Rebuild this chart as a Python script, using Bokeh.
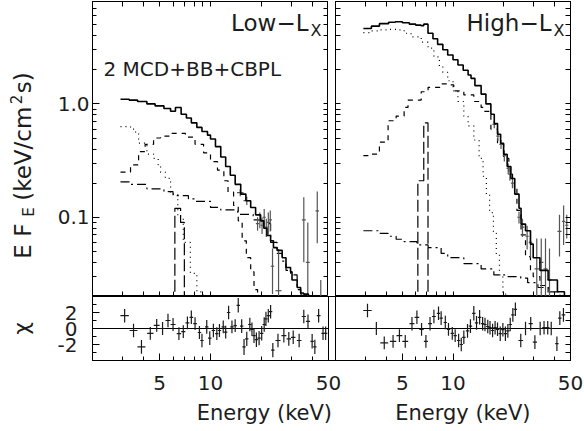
import math
from bokeh.plotting import figure
from bokeh.layouts import column, row
from bokeh.models import FixedTicker, Label, LogAxis, LinearAxis, Range1d
from bokeh.embed import file_html
from bokeh.resources import INLINE

FONT = "DejaVu Sans"
INK = "#1c1c1c"

# ---------------- Low-Lx : model components (bin edges in keV, step values in keV/cm^2/s) ----
low_total_E = [2.93, 3.3, 3.7, 4.2, 4.7, 5.3, 5.8, 6.2, 6.7, 7.2, 7.7, 8.3, 8.9, 9.6, 10.0, 10.7, 11.5, 12.3,
               13.1, 14.0, 15.1, 16.2, 17.3, 18.5, 19.8, 20.7, 21.6, 22.7, 23.6, 24.8, 26.6, 28.0, 29.8, 30.4,
               32.6, 34.2, 35.6, 38.0, 40.0, 50.0]
low_total_F = [1.10, 1.08, 1.05, 1.00, 0.96, 0.91, 0.86, 0.93, 0.81, 0.75, 0.68, 0.62, 0.57, 0.53, 0.49, 0.42,
               0.34, 0.28, 0.235, 0.195, 0.16, 0.14, 0.122, 0.105, 0.093, 0.08, 0.069, 0.062, 0.054, 0.051,
               0.044, 0.036, 0.033, 0.028, 0.024, 0.0215, 0.021, 0.0195, 0.012]
low_mcd_E = [2.93, 3.36, 3.6, 3.75, 4.2, 4.6, 4.9, 5.06, 5.4, 5.8, 6.4, 6.9, 7.6, 8.3, 9.0, 9.5]
low_mcd_F = [0.63, 0.60, 0.55, 0.45, 0.36, 0.33, 0.29, 0.25, 0.22, 0.16, 0.10, 0.06, 0.032, 0.022, 0.012]
low_bb_E = [2.93, 3.36, 3.75, 4.1, 4.6, 5.06, 5.8, 7.1, 8.1, 9.1, 10.0, 11.0, 12.0, 12.7, 13.7, 14.6, 15.4,
            16.3, 17.3, 18.1, 19.0, 19.8]
low_bb_F = [0.25, 0.29, 0.38, 0.44, 0.50, 0.52, 0.55, 0.51, 0.44, 0.37, 0.31, 0.26, 0.21, 0.167, 0.127, 0.093,
            0.062, 0.044, 0.033, 0.023, 0.015]
low_pl_E = [2.93, 3.36, 4.2, 5.3, 6.0, 7.4, 8.1, 10.0, 11.5, 14.5, 17.9, 20.0, 22.7, 24.8, 26.6, 28.0, 29.8,
            32.6, 34.2, 36.0, 40.0, 50.0]
low_pl_F = [0.205, 0.195, 0.178, 0.168, 0.155, 0.145, 0.138, 0.122, 0.116, 0.106, 0.095, 0.088, 0.060, 0.048,
            0.041, 0.034, 0.031, 0.023, 0.021, 0.019, 0.011]
low_line_E = [2.93, 6.15, 6.65, 7.0, 50.0]
low_line_F = [1e-4, 0.12, 0.09, 1e-4]

# Low-Lx : data visible in the spectrum panel
low_pts_E = [15.0, 16.4, 19.0, 19.6, 20.2, 20.8, 21.4, 22.0, 22.6, 23.3, 25.3, 35.7, 37.7, 42.9, 45.0]
low_pts_F = [0.165, 0.14, 0.088, 0.095, 0.085, 0.10, 0.082, 0.090, 0.095, 0.037, 0.0225, 0.095, 0.040, 0.114, 0.016]
low_pts_err = [0.012, 0.012, 0.012, 0.015, 0.014, 0.018, 0.015, 0.02, 0.02, 0.016, 0.03, 0.055, 0.05, 0.055, 0.012]

# Low-Lx : residuals (chi)
low_res_E = [3.1, 3.5, 3.9, 4.4, 4.8, 5.2, 5.6, 6.0, 6.5, 6.9, 7.3, 7.7, 8.1, 8.6, 8.9, 9.5, 9.9, 10.4, 10.9,
             11.3, 11.9, 12.3, 12.8, 13.4, 14.0, 14.6, 15.3, 15.8, 16.4, 17.1, 17.6, 18.1, 18.7, 19.4, 20.1,
             20.8, 21.3, 22.0, 22.7, 23.4, 25.1, 27.2, 29.1, 30.9, 33.5, 35.7, 37.8, 40.0, 41.5, 43.7, 46.4, 48.1]
low_res_chi = [1.6, -0.25, -2.3, -0.6, 0.4, 0.0, 1.0, 0.5, -0.65, -0.4, 0.7, 1.4, 0.6, -0.5, -1.5, 0.2, -1.2,
               -0.25, -0.65, -0.25, 0.2, -0.45, 2.0, 0.2, 0.35, 2.9, 0.3, -2.3, -1.3, 0.5, -0.1, -0.9, -1.4,
               -1.2, -0.6, 0.5, 1.2, 1.6, 2.1, -2.7, -1.5, -0.9, -1.3, -1.1, -1.5, 1.5, 0.9, -1.6, -2.3, 1.6,
               -0.6, -0.6]
low_res_err = [0.85, 0.85, 0.85, 0.8, 0.8, 0.8, 0.85, 0.8, 0.8, 0.8, 0.8, 0.85, 0.8, 0.8, 0.85, 0.85, 0.85,
               0.85, 0.8, 0.8, 0.8, 0.8, 0.85, 0.8, 0.8, 0.9, 0.85, 1.0, 0.9, 0.85, 0.85, 0.9, 0.9, 0.9, 0.9,
               0.9, 0.9, 0.85, 0.85, 0.9, 0.85, 0.85, 0.85, 0.85, 0.85, 0.85, 0.85, 0.9, 0.9, 0.85, 0.85, 0.85]

# ---------------- High-Lx : model components ----------------
high_total_E = [2.93, 3.27, 3.65, 4.14, 4.54, 5.0, 5.5, 6.0, 6.45, 6.7, 7.1, 7.6, 8.1, 8.7, 9.3, 10.0, 10.7,
                11.5, 12.3, 12.8, 13.5, 14.7, 15.7, 16.8, 17.6, 18.4, 19.2, 20.0, 21.0, 22.1, 23.3, 24.7, 25.4,
                27.0, 28.9, 30.0, 32.9, 36.8, 41.8, 46.0, 50.0]
high_total_F = [4.63, 4.85, 5.1, 5.25, 5.3, 5.2, 5.05, 4.95, 4.9, 5.05, 4.2, 3.75, 3.35, 3.0, 2.7, 2.45, 2.2,
                1.98, 1.8, 1.68, 1.45, 1.22, 1.0, 0.81, 0.67, 0.54, 0.45, 0.36, 0.28, 0.22, 0.16, 0.12, 0.087,
                0.076, 0.058, 0.044, 0.034, 0.028, 0.022, 0.02]
high_mcd_E = [2.93, 3.27, 3.65, 4.14, 4.6, 5.12, 5.63, 6.47, 7.11, 7.7, 8.3, 8.7, 9.3, 10.0, 10.7, 11.6, 12.3,
              13.3, 14.3, 15.1, 15.8, 16.5, 17.4, 18.1, 18.9, 19.8, 20.6, 21.5]
high_mcd_F = [4.25, 4.4, 4.5, 4.55, 4.5, 4.2, 3.9, 3.5, 3.1, 2.6, 2.15, 1.9, 1.6, 1.3, 1.05, 0.78, 0.64, 0.48,
              0.33, 0.23, 0.16, 0.11, 0.072, 0.047, 0.031, 0.021, 0.012]
high_bb_E = [2.93, 3.27, 3.65, 4.11, 4.59, 5.12, 5.4, 6.47, 7.11, 8.5, 9.3, 10.1, 11.6, 13.3, 14.7, 15.3, 16.8,
             18.4, 20.0, 21.5, 22.6, 24.0, 25.4, 27.0, 28.9, 30.0, 32.9, 36.8, 41.8, 46.0]
high_bb_F = [0.35, 0.36, 0.46, 0.71, 0.78, 0.93, 1.08, 1.28, 1.4, 1.5, 1.47, 1.3, 1.2, 1.05, 0.93, 0.86, 0.6,
             0.44, 0.33, 0.24, 0.18, 0.115, 0.07, 0.045, 0.033, 0.03, 0.025, 0.02, 0.015]
high_pl_E = [2.93, 3.27, 3.65, 4.11, 4.59, 5.12, 6.1, 7.11, 8.5, 9.3, 11.6, 14.7, 17.5, 20.3, 25.3, 27.8, 32.0,
             37.0, 42.0, 46.0, 50.0]
high_pl_F = [0.076, 0.076, 0.072, 0.068, 0.064, 0.061, 0.057, 0.054, 0.048, 0.044, 0.039, 0.035, 0.031, 0.030,
             0.029, 0.0265, 0.024, 0.022, 0.0205, 0.0195]
high_line_E = [2.93, 6.18, 6.7, 7.1, 50.0]
high_line_F = [1e-4, 0.21, 0.68, 1e-4]

high_pts_E = [17.6, 18.5, 19.3, 20.2, 21.3, 21.8, 22.6, 24.7, 25.9, 27.6, 28.9, 31.5, 33.5, 35.5, 37.5, 43.0,
              45.5, 47.5]
high_pts_F = [0.66, 0.52, 0.44, 0.35, 0.27, 0.24, 0.20, 0.10, 0.082, 0.068, 0.060, 0.035, 0.040, 0.035, 0.028,
              0.075, 0.092, 0.085]
high_pts_err = [0.05, 0.05, 0.04, 0.04, 0.03, 0.03, 0.02, 0.012, 0.015, 0.016, 0.016, 0.03, 0.025, 0.03, 0.025,
                0.03, 0.035, 0.02]

high_res_E = [3.1, 3.5, 3.9, 4.4, 4.8, 5.2, 5.7, 6.1, 6.5, 6.9, 7.3, 7.7, 8.2, 8.5, 9.0, 9.4, 9.9, 10.3, 10.8,
              11.2, 11.6, 12.2, 12.7, 13.3, 13.8, 14.4, 15.0, 15.5, 16.1, 16.6, 17.2, 17.8, 18.4, 19.1, 19.8,
              20.5, 21.2, 21.9, 22.7, 23.5, 25.3, 27.0, 29.0, 30.7, 33.0, 34.8, 36.6, 38.4, 41.5, 43.2, 45.4]
high_res_chi = [2.25, 0.0, -1.8, -1.6, -0.9, -1.6, 0.6, 1.4, -0.1, -1.6, 0.6, 1.5, 1.9, 1.3, 0.75, -0.1, -0.6,
                -0.9, -1.5, -2.0, -1.1, -0.3, 0.3, 1.9, 0.7, 1.4, 0.6, 0.5, 0.25, 0.1, -0.25, 0.1, -0.1, -0.65,
                -0.15, -0.65, -0.3, 0.5, 1.7, 2.4, -1.5, 0.0, 0.6, -1.7, 0.0, 0.1, 0.1, 0.0, -1.9, 1.3, 1.7]
high_res_err = [0.85, 0.8, 0.8, 0.8, 0.8, 0.8, 0.85, 0.85, 0.8, 0.8, 0.85, 0.85, 0.85, 0.85, 0.85, 0.8, 0.8,
                0.8, 0.85, 0.85, 0.85, 0.85, 0.85, 0.9, 0.85, 0.9, 0.85, 0.85, 0.85, 0.85, 0.85, 0.85, 0.85,
                0.9, 0.85, 0.9, 0.85, 0.85, 0.85, 0.85, 0.85, 0.85, 0.85, 0.85, 0.85, 0.85, 0.85, 0.85, 0.9,
                0.85, 0.85]

# axis ticks and labels
x_major = [5, 10, 50]
x_minor = [2, 3, 4, 6, 7, 8, 9, 20, 30, 40]
x_labels = ["5", "10", "50"]
y_major = [0.1, 1]
y_minor = [0.02, 0.03, 0.04, 0.05, 0.06, 0.07, 0.08, 0.09, 0.2, 0.3, 0.4, 0.5, 0.6, 0.7, 0.8, 0.9,
           2, 3, 4, 5, 6, 7, 8]
y_labels = ["0.1", "1.0"]
chi_major = [-2, 0, 2]
chi_minor = [-4, -3, -1, 1, 3, 4]
chi_labels = ["-2", "0", "2"]

X0, X1 = 2.0, 50.0
Y0, Y1 = 0.02, 8.0
C0, C1 = -4.0, 4.0

# page geometry (pixels)
PAGE_W, PAGE_H = 584, 431
LBL_W = 44
FL0, FL1 = 92, 328      # left panel frame x
FR0, FR1 = 335, 570     # right panel frame x
TOP, MID, BOT = 1, 296, 360
TITLE_H = 31
MIDLINE = 0.346         # em offset between text middle and baseline (DejaVu Sans)


def make_fig(width, height, xr, yr, xtype, ytype, bl, br, bt, bb):
    p = figure(width=width, height=height, x_axis_type=xtype, y_axis_type=ytype,
               x_range=xr, y_range=yr, output_backend="svg", toolbar_location=None, title=None,
               min_border_left=bl, min_border_right=br, min_border_top=bt, min_border_bottom=bb)
    p.xgrid.visible = False
    p.ygrid.visible = False
    p.outline_line_color = "black"
    p.outline_line_width = 1
    p.background_fill_color = "white"
    p.border_fill_color = "white"
    return p


def text_fig(width, height, y_top):
    """A bare canvas whose data coordinates are page pixels (for titles)."""
    p = figure(width=width, height=height, x_range=(0, width), y_range=(y_top + height, y_top),
               output_backend="svg", toolbar_location=None, x_axis_location=None, y_axis_location=None,
               title=None, min_border_left=0, min_border_right=0, min_border_top=0, min_border_bottom=0)
    p.xgrid.visible = False
    p.ygrid.visible = False
    p.outline_line_color = None
    p.background_fill_color = "white"
    p.border_fill_color = "white"
    return p


def style_ticks(ax):
    ax.axis_line_color = "black"
    ax.major_tick_line_color = "black"
    ax.minor_tick_line_color = "black"
    ax.major_tick_in = 7
    ax.major_tick_out = 0
    ax.minor_tick_in = 4
    ax.minor_tick_out = 0


def labelled_axis(ax, major, minor, labels, standoff, size="20px"):
    ax.ticker = FixedTicker(ticks=list(major), minor_ticks=list(minor))
    style_ticks(ax)
    ax.major_label_text_font = FONT
    ax.major_label_text_font_size = size
    ax.major_label_text_color = INK
    ax.major_label_standoff = standoff
    ax.major_label_overrides = {t: s for t, s in zip(major, labels)}


def bare_axis(ax, major, minor):
    # no tick labels: every tick drawn as an inner tick
    ax.ticker = FixedTicker(ticks=[], minor_ticks=sorted(list(major) + list(minor)))
    style_ticks(ax)
    ax.minor_tick_in = 5
    ax.major_label_standoff = 0


def add_steps(p, edges, vals, dash, width):
    ys = list(vals) + [vals[-1]]
    p.step(x=list(edges), y=ys, mode="after", line_color="black", line_width=width, line_dash=dash)


def half_widths(E):
    lg = [math.log10(e) for e in E]
    out = []
    for i in range(len(lg)):
        gaps = []
        if i > 0:
            gaps.append(lg[i] - lg[i - 1])
        if i < len(lg) - 1:
            gaps.append(lg[i + 1] - lg[i])
        out.append(min(max(0.5 * min(gaps), 0.01), 0.025))
    return out


def add_crosses(p, E, V, err, color, width, floor=None, rname="default"):
    hw = half_widths(E)
    x0 = [e / 10 ** h for e, h in zip(E, hw)]
    x1 = [e * 10 ** h for e, h in zip(E, hw)]
    lo = [v - d for v, d in zip(V, err)]
    if floor is not None:
        lo = [l if l > 0 else floor for l in lo]
    hi = [v + d for v, d in zip(V, err)]
    p.segment(x0=E, y0=lo, x1=E, y1=hi, line_color=color, line_width=width, x_range_name=rname)
    p.segment(x0=x0, y0=V, x1=x1, y1=V, line_color=color, line_width=width, x_range_name=rname)


def frame_label(p, text, fx, page_baseline, size_px, W, align="left"):
    """Text in a spectrum panel: fx pixels from the frame's left edge, baseline at a page row."""
    mid_row = page_baseline - MIDLINE * size_px
    fy = MID - mid_row
    x = X0 * (X1 / X0) ** (fx / W)
    y = Y0 * (Y1 / Y0) ** (fy / (MID - TOP))
    p.add_layout(Label(x=x, y=y, text=text, text_font=FONT, text_font_size=f"{size_px}px",
                       text_color=INK, text_align=align, text_baseline="middle"))


def page_label(p, text, x, y, size, align="left", baseline="middle", angle=0.0):
    p.add_layout(Label(x=x, y=y, text=text, text_font=FONT, text_font_size=size, text_color=INK,
                       text_align=align, text_baseline=baseline, angle=angle))


def spectrum_panel(width, bl, br, show_left, comps, pts):
    p = make_fig(width, MID, (X0, X1), (Y0, Y1), "log", "log", bl, br, TOP, 0)
    p.add_layout(LogAxis(), "above")
    p.add_layout(LogAxis(), "right")
    for ax in p.xaxis:
        bare_axis(ax, x_major, x_minor)
    for i, ax in enumerate(p.yaxis):
        if show_left and i == 0:
            labelled_axis(ax, y_major, y_minor, y_labels, 3)
        else:
            bare_axis(ax, y_major, y_minor)
    (tE, tF), (mE, mF), (bE, bF), (plE, plF), (gE, gF) = comps
    add_steps(p, mE, mF, "1 4", 1.2)
    add_steps(p, bE, bF, "5 5", 1.2)
    add_steps(p, plE, plF, "9 4 2 4", 1.2)
    add_steps(p, gE, gF, "12 4", 1.2)
    pE, pF, pErr = pts
    add_crosses(p, pE, pF, pErr, "#555555", 1.2, floor=1e-4)
    add_steps(p, tE, tF, "solid", 1.6)
    return p


# ---------------- top row: spectra ----------------
low_comps = [(low_total_E, low_total_F), (low_mcd_E, low_mcd_F), (low_bb_E, low_bb_F),
             (low_pl_E, low_pl_F), (low_line_E, low_line_F)]
high_comps = [(high_total_E, high_total_F), (high_mcd_E, high_mcd_F), (high_bb_E, high_bb_F),
              (high_pl_E, high_pl_F), (high_line_E, high_line_F)]

WL, WR = FL1 - FL0, FR1 - FR0
mL = spectrum_panel(FL1 - LBL_W, FL0 - LBL_W, 0, True, low_comps, (low_pts_E, low_pts_F, low_pts_err))
mR = spectrum_panel(PAGE_W - FL1, FR0 - FL1, PAGE_W - FR1, False, high_comps,
                    (high_pts_E, high_pts_F, high_pts_err))

frame_label(mL, "Low\u2212L", 216, 30, 23, WL, align="right")
frame_label(mL, "X", 218, 36, 16, WL)
frame_label(mL, "2 MCD+BB+CBPL", 11, 75, 20, WL)
frame_label(mR, "High\u2212L", 216, 30, 23, WR, align="right")
frame_label(mR, "X", 218, 36, 16, WR)

# y title of the spectra (left strip, page coordinates)
ytl = text_fig(LBL_W, MID, 0)
A = math.pi / 2
page_label(ytl, "E F", 22, 258, "23px", angle=A)
page_label(ytl, "E", 28, 216, "15px", angle=A)
page_label(ytl, "(keV/cm", 22, 200, "23px", angle=A)
page_label(ytl, "2", 15, 103, "15px", angle=A)
page_label(ytl, "s)", 22, 92, "23px", angle=A)

# ---------------- middle row: residuals of both spectra in one canvas ----------------
RES_W = FR1 - FL0
LO_END = X0 * (X1 / X0) ** (RES_W / (FL1 - FL0))            # default range reaches the right panel edge
HI_START = X0 / (X1 / X0) ** ((FR0 - FL0) / (FR1 - FR0))    # second range starts at the left panel edge


def hi_to_lo(E):
    frac = math.log(E / HI_START) / math.log(X1 / HI_START)
    return X0 * (LO_END / X0) ** frac


res_bottom = PAGE_H - TITLE_H - BOT
res = make_fig(PAGE_W, BOT - MID + res_bottom, (X0, LO_END), (C0, C1), "log", "linear",
               FL0, PAGE_W - FR1, 0, res_bottom)
res.extra_x_ranges = {"hi": Range1d(HI_START, X1)}
res.add_layout(LinearAxis(), "right")

ticks_all = list(x_major) + [hi_to_lo(t) for t in x_major]
minor_all = list(x_minor) + [hi_to_lo(t) for t in x_minor]
labels_all = x_labels + x_labels
for ax in res.xaxis:
    labelled_axis(ax, ticks_all, minor_all, labels_all, 15)
for i, ax in enumerate(res.yaxis):
    if i == 0:
        labelled_axis(ax, chi_major, chi_minor, chi_labels, 15)
        ax.axis_label = "\u03c7"
        ax.axis_label_text_font = FONT
        ax.axis_label_text_font_size = "22px"
        ax.axis_label_text_font_style = "normal"
        ax.axis_label_text_color = INK
        ax.axis_label_standoff = 21
    else:
        bare_axis(ax, chi_major, chi_minor)

for rname in ("default", "hi"):
    # zero line of each residual panel
    res.segment(x0=[X0], y0=[0], x1=[X1], y1=[0], line_color="black", line_width=1.2, x_range_name=rname)
# inner borders of the two residual panels
res.segment(x0=[X1], y0=[C0], x1=[X1], y1=[C1], line_color="black", line_width=1)
res.segment(x0=[X0], y0=[C0], x1=[X0], y1=[C1], line_color="black", line_width=1, x_range_name="hi")

add_crosses(res, low_res_E, low_res_chi, low_res_err, "#1a1a1a", 1.2)
add_crosses(res, high_res_E, high_res_chi, high_res_err, "#1a1a1a", 1.2, rname="hi")

# ---------------- bottom row: x titles ----------------
xt = text_fig(PAGE_W, TITLE_H, PAGE_H - TITLE_H)
title_mid = 420 - MIDLINE * 21
page_label(xt, "Energy (keV)", (FL0 + FL1) / 2, title_mid, "21px", align="center")
page_label(xt, "Energy (keV)", (FR0 + FR1) / 2, title_mid, "21px", align="center")

layout = column(row(ytl, mL, mR), res, xt)

with open("out.html", "w") as f:
    f.write(file_html(layout, INLINE))
